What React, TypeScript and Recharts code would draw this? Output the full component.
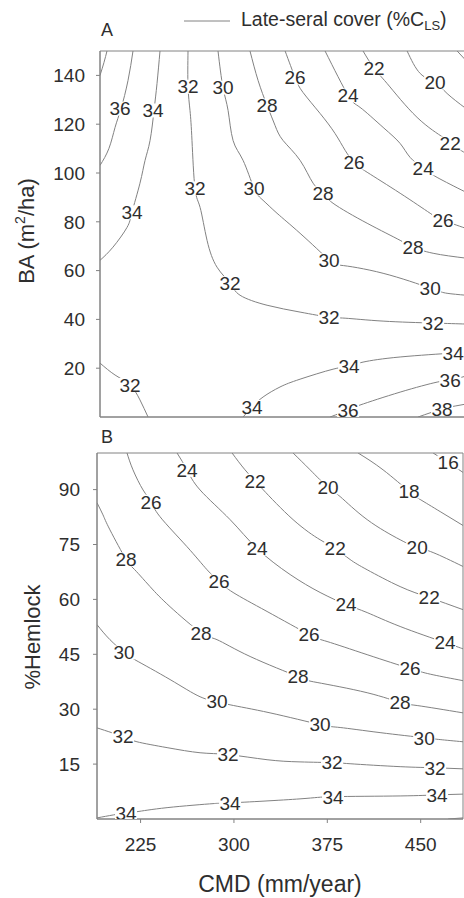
import React from 'react';
import { ComposedChart, Line, Scatter, XAxis, YAxis, ReferenceArea } from 'recharts';

type P = { x: number; y: number };
type L = { x: number; y: number; v: number };

const FONT = '"Liberation Sans", Arial, Helvetica, sans-serif';
const LINE = '#828282';
const TXT = '#2e2e2e';

// tick labels
const cmdTicks = [225, 300, 375, 450];
const baTicks = [20, 40, 60, 80, 100, 120, 140];
const hemTicks = [15, 30, 45, 60, 75, 90];

// ---------- Panel A: CMD vs BA ----------
const a38: P[] = [{ x: 190, y: 140 }, { x: 193.2, y: 145.3 }, { x: 195.6, y: 150 }];
const a36: P[] = [{ x: 190, y: 103.1 }, { x: 197.2, y: 110.1 }, { x: 202.1, y: 118.7 }, { x: 206.9, y: 126.4 }, { x: 212.5, y: 137.9 }, { x: 216.5, y: 150 }];
const a34: P[] = [{ x: 190, y: 64.2 }, { x: 200.4, y: 69.6 }, { x: 211.7, y: 77.7 }, { x: 215.7, y: 83.9 }, { x: 222.1, y: 95.8 }, { x: 226.2, y: 105.2 }, { x: 230.2, y: 113.3 }, { x: 233.4, y: 125.6 }, { x: 235.8, y: 136.7 }, { x: 238.2, y: 150 }];
const a32: P[] = [{ x: 260.7, y: 150 }, { x: 260.7, y: 135.4 }, { x: 262.3, y: 125.6 }, { x: 263.9, y: 113.3 }, { x: 266.3, y: 93.7 }, { x: 270.4, y: 85.9 }, { x: 276.0, y: 72.4 }, { x: 284.0, y: 61.4 }, { x: 294.5, y: 54.8 }, { x: 302.5, y: 49.9 }, { x: 324.2, y: 45.8 }, { x: 350.7, y: 43.0 }, { x: 374.0, y: 40.9 }, { x: 386.9, y: 40.5 }, { x: 417.4, y: 39.3 }, { x: 457.6, y: 38.5 }, { x: 484, y: 38.1 }];
const a30: P[] = [{ x: 284.8, y: 150 }, { x: 288.8, y: 135.0 }, { x: 292.9, y: 125.6 }, { x: 296.9, y: 113.3 }, { x: 304.9, y: 105.2 }, { x: 313.8, y: 93.7 }, { x: 321.0, y: 88.8 }, { x: 332.2, y: 83.5 }, { x: 350.7, y: 75.3 }, { x: 374.0, y: 64.2 }, { x: 382.9, y: 62.2 }, { x: 417.4, y: 58.9 }, { x: 455.2, y: 52.8 }, { x: 468.8, y: 50.7 }, { x: 484, y: 49.9 }];
const a28: P[] = [{ x: 310.5, y: 150 }, { x: 317.0, y: 137.9 }, { x: 324.2, y: 127.7 }, { x: 330.6, y: 119.5 }, { x: 337.1, y: 113.3 }, { x: 350.7, y: 105.2 }, { x: 361.2, y: 95.8 }, { x: 369.2, y: 91.7 }, { x: 377.2, y: 87.6 }, { x: 404.6, y: 79.4 }, { x: 431.1, y: 72.4 }, { x: 441.5, y: 69.6 }, { x: 457.6, y: 67.1 }, { x: 484, y: 65.1 }];
const a26: P[] = [{ x: 338.7, y: 150 }, { x: 346.7, y: 139.1 }, { x: 353.1, y: 133.0 }, { x: 366.8, y: 124.4 }, { x: 378.8, y: 116.2 }, { x: 386.9, y: 109.3 }, { x: 394.1, y: 104.3 }, { x: 404.6, y: 100.3 }, { x: 431.1, y: 91.7 }, { x: 455.2, y: 83.5 }, { x: 465.6, y: 80.6 }, { x: 484, y: 77.3 }];
const a24: P[] = [{ x: 370.8, y: 150 }, { x: 389.3, y: 131.8 }, { x: 398.9, y: 126.9 }, { x: 417.4, y: 118.7 }, { x: 431.1, y: 112.1 }, { x: 439.1, y: 106.4 }, { x: 449.6, y: 101.9 }, { x: 460.8, y: 98.2 }, { x: 484, y: 92.1 }];
const a22: P[] = [{ x: 401.3, y: 150 }, { x: 410.2, y: 142.8 }, { x: 420.6, y: 136.7 }, { x: 444.7, y: 122.8 }, { x: 465.6, y: 114.6 }, { x: 471.3, y: 112.1 }, { x: 484, y: 108.0 }];
const a20: P[] = [{ x: 436.7, y: 150 }, { x: 447.2, y: 140.8 }, { x: 459.2, y: 137.1 }, { x: 468.8, y: 132.6 }, { x: 484, y: 126.4 }];
const a18: P[] = [{ x: 476.9, y: 150 }, { x: 484, y: 146.1 }];
const a32low: P[] = [{ x: 190, y: 22.1 }, { x: 202.1, y: 17.2 }, { x: 214.1, y: 13.1 }, { x: 222.1, y: 7.0 }, { x: 228.6, y: 0 }];
const a34low: P[] = [{ x: 304.9, y: 0 }, { x: 312.1, y: 4.1 }, { x: 321.0, y: 8.2 }, { x: 334.6, y: 12.3 }, { x: 350.7, y: 15.5 }, { x: 377.2, y: 19.6 }, { x: 390.1, y: 20.9 }, { x: 401.3, y: 22.5 }, { x: 431.1, y: 24.6 }, { x: 473.7, y: 26.2 }, { x: 484, y: 26.6 }];
const a36low: P[] = [{ x: 374.8, y: 0 }, { x: 389.3, y: 2.9 }, { x: 398.9, y: 4.9 }, { x: 431.1, y: 10.2 }, { x: 460.8, y: 14.3 }, { x: 471.3, y: 15.1 }, { x: 484, y: 16.8 }];
const a38low: P[] = [{ x: 445.5, y: 0 }, { x: 464.8, y: 3.3 }, { x: 475.3, y: 4.5 }, { x: 484, y: 5.3 }];

const labelsA: L[] = [
  { x: 206.1, y: 126.4, v: 36 },
  { x: 232.6, y: 125.6, v: 34 }, { x: 215.7, y: 83.9, v: 34 },
  { x: 260.7, y: 135.4, v: 32 }, { x: 266.3, y: 93.7, v: 32 }, { x: 294.5, y: 54.8, v: 32 }, { x: 374.0, y: 40.9, v: 32 }, { x: 457.6, y: 38.5, v: 32 },
  { x: 288.8, y: 135.0, v: 30 }, { x: 313.8, y: 93.7, v: 30 }, { x: 374.0, y: 64.2, v: 30 }, { x: 455.2, y: 52.8, v: 30 },
  { x: 324.2, y: 127.7, v: 28 }, { x: 369.2, y: 91.7, v: 28 }, { x: 441.5, y: 69.6, v: 28 },
  { x: 346.7, y: 139.1, v: 26 }, { x: 394.1, y: 104.3, v: 26 }, { x: 465.6, y: 80.6, v: 26 },
  { x: 389.3, y: 131.8, v: 24 }, { x: 449.6, y: 101.9, v: 24 },
  { x: 410.2, y: 142.8, v: 22 }, { x: 471.3, y: 112.1, v: 22 },
  { x: 459.2, y: 137.1, v: 20 },
  { x: 214.1, y: 13.1, v: 32 },
  { x: 312.1, y: 4.1, v: 34 }, { x: 390.1, y: 20.9, v: 34 }, { x: 473.7, y: 26.2, v: 34 },
  { x: 389.3, y: 2.9, v: 36 }, { x: 471.3, y: 15.1, v: 36 },
  { x: 464.8, y: 3.3, v: 38 },
];

// ---------- Panel B: CMD vs %Hemlock ----------
const b16: P[] = [{ x: 460.0, y: 100 }, { x: 472.1, y: 97.4 }, { x: 484, y: 94.7 }];
const b18: P[] = [{ x: 399.7, y: 100 }, { x: 419.8, y: 95.4 }, { x: 440.7, y: 89.5 }, { x: 449.6, y: 87.3 }, { x: 465.6, y: 84.0 }, { x: 484, y: 80.2 }];
const b20: P[] = [{ x: 347.5, y: 100 }, { x: 361.2, y: 95.4 }, { x: 375.6, y: 90.6 }, { x: 385.3, y: 88.1 }, { x: 407.0, y: 81.8 }, { x: 433.5, y: 76.3 }, { x: 447.2, y: 74.2 }, { x: 460.0, y: 72.8 }, { x: 484, y: 69.0 }];
const b22: P[] = [{ x: 298.5, y: 100 }, { x: 308.9, y: 95.4 }, { x: 317.0, y: 92.4 }, { x: 323.4, y: 90.0 }, { x: 347.5, y: 81.8 }, { x: 369.2, y: 76.3 }, { x: 381.3, y: 73.9 }, { x: 393.3, y: 70.9 }, { x: 407.0, y: 68.1 }, { x: 433.5, y: 63.5 }, { x: 456.8, y: 60.5 }, { x: 484, y: 57.2 }];
const b24: P[] = [{ x: 254.3, y: 100 }, { x: 262.3, y: 95.4 }, { x: 272.8, y: 89.9 }, { x: 296.9, y: 81.8 }, { x: 318.6, y: 73.9 }, { x: 345.1, y: 66.8 }, { x: 369.2, y: 61.9 }, { x: 390.1, y: 58.6 }, { x: 407.0, y: 56.4 }, { x: 433.5, y: 52.6 }, { x: 469.6, y: 48.2 }, { x: 484, y: 46.5 }];
const b26: P[] = [{ x: 214.1, y: 100 }, { x: 218.9, y: 95.4 }, { x: 227.0, y: 89.9 }, { x: 233.4, y: 86.7 }, { x: 240.6, y: 82.6 }, { x: 262.3, y: 74.4 }, { x: 278.4, y: 68.1 }, { x: 288.0, y: 64.9 }, { x: 299.3, y: 61.9 }, { x: 326.6, y: 56.7 }, { x: 360.4, y: 50.4 }, { x: 374.8, y: 48.5 }, { x: 407.0, y: 44.9 }, { x: 441.5, y: 41.1 }, { x: 460.0, y: 39.4 }, { x: 484, y: 37.8 }];
const b28: P[] = [{ x: 190, y: 86.4 }, { x: 194.8, y: 83.1 }, { x: 200.4, y: 79.0 }, { x: 213.3, y: 70.9 }, { x: 218.9, y: 68.6 }, { x: 232.6, y: 63.5 }, { x: 248.7, y: 58.0 }, { x: 273.6, y: 50.9 }, { x: 286.4, y: 49.0 }, { x: 313.0, y: 44.4 }, { x: 351.5, y: 38.9 }, { x: 366.8, y: 37.3 }, { x: 407.0, y: 34.5 }, { x: 433.5, y: 31.8 }, { x: 447.2, y: 31.0 }, { x: 484, y: 29.0 }];
const b30: P[] = [{ x: 190, y: 53.1 }, { x: 200.4, y: 49.0 }, { x: 211.7, y: 45.5 }, { x: 220.5, y: 43.5 }, { x: 248.7, y: 38.1 }, { x: 272.8, y: 33.4 }, { x: 286.4, y: 32.1 }, { x: 296.9, y: 31.2 }, { x: 329.0, y: 29.0 }, { x: 369.2, y: 25.8 }, { x: 385.3, y: 25.0 }, { x: 417.4, y: 23.6 }, { x: 452.8, y: 22.2 }, { x: 465.6, y: 21.7 }, { x: 484, y: 21.1 }];
const b32: P[] = [{ x: 190, y: 24.9 }, { x: 210.9, y: 22.5 }, { x: 222.1, y: 21.1 }, { x: 246.3, y: 19.5 }, { x: 272.8, y: 18.1 }, { x: 295.3, y: 17.6 }, { x: 326.6, y: 16.2 }, { x: 353.1, y: 15.6 }, { x: 378.8, y: 15.4 }, { x: 393.3, y: 15.1 }, { x: 433.5, y: 14.3 }, { x: 461.6, y: 14.0 }, { x: 484, y: 13.7 }];
const b34: P[] = [{ x: 190, y: 0.3 }, { x: 213.3, y: 1.7 }, { x: 222.1, y: 2.0 }, { x: 246.3, y: 3.1 }, { x: 283.2, y: 4.2 }, { x: 296.9, y: 4.4 }, { x: 353.1, y: 5.5 }, { x: 379.6, y: 6.1 }, { x: 433.5, y: 6.3 }, { x: 463.2, y: 6.6 }, { x: 484, y: 6.8 }];
const b36: P[] = [{ x: 472.1, y: 0 }, { x: 484, y: 0.3 }];

const labelsB: L[] = [
  { x: 472.1, y: 97.4, v: 16 },
  { x: 440.7, y: 89.5, v: 18 },
  { x: 375.6, y: 90.6, v: 20 }, { x: 447.2, y: 74.2, v: 20 },
  { x: 317.0, y: 92.4, v: 22 }, { x: 381.3, y: 73.9, v: 22 }, { x: 456.8, y: 60.5, v: 22 },
  { x: 262.3, y: 95.4, v: 24 }, { x: 318.6, y: 73.9, v: 24 }, { x: 390.1, y: 58.6, v: 24 }, { x: 469.6, y: 48.2, v: 24 },
  { x: 233.4, y: 86.7, v: 26 }, { x: 288.0, y: 64.9, v: 26 }, { x: 360.4, y: 50.4, v: 26 }, { x: 441.5, y: 41.1, v: 26 },
  { x: 213.3, y: 70.9, v: 28 }, { x: 273.6, y: 50.9, v: 28 }, { x: 351.5, y: 38.9, v: 28 }, { x: 433.5, y: 31.8, v: 28 },
  { x: 211.7, y: 45.5, v: 30 }, { x: 286.4, y: 32.1, v: 30 }, { x: 369.2, y: 25.8, v: 30 }, { x: 452.8, y: 22.2, v: 30 },
  { x: 210.9, y: 22.5, v: 32 }, { x: 295.3, y: 17.6, v: 32 }, { x: 378.8, y: 15.4, v: 32 }, { x: 461.6, y: 14.0, v: 32 },
  { x: 213.3, y: 1.7, v: 34 }, { x: 296.9, y: 4.4, v: 34 }, { x: 379.6, y: 6.1, v: 34 }, { x: 463.2, y: 6.6, v: 34 },
];

const contoursA = [a38, a36, a34, a32, a30, a28, a26, a24, a22, a20, a18, a32low, a34low, a36low, a38low];
const contoursB = [b16, b18, b20, b22, b24, b26, b28, b30, b32, b34, b36];

const renderLabel = (props: any) => {
  const { cx, cy, payload } = props;
  if (cx == null || cy == null) return <g />;
  return (
    <g>
      <rect x={cx - 11} y={cy - 7} width={22} height={14} fill="#fff" />
      <text x={cx} y={cy} dy="0.36em" textAnchor="middle" fontSize={19} fontFamily={FONT} fill={TXT}>
        {payload.v}
      </text>
    </g>
  );
};

const tickStyle = { fill: TXT, fontSize: 19, fontFamily: FONT };

export default function App() {
  return (
    <div style={{ position: 'absolute', left: 0, top: 0, width: 464, height: 898, overflow: 'hidden', background: '#fff' }}>
      <div style={{ position: 'absolute', left: 0, top: 0 }}>
        <ComposedChart width={480} height={440} margin={{ top: 51, right: 14, bottom: 3, left: 0 }}>
          <XAxis dataKey="x" type="number" domain={[190, 484]} ticks={cmdTicks} tick={false} tickSize={4} height={20}
            axisLine={{ stroke: LINE }} tickLine={{ stroke: LINE }} allowDataOverflow />
          <YAxis dataKey="y" type="number" domain={[0, 150]} ticks={baTicks} width={100} tickSize={4} tickMargin={11}
            tick={tickStyle} axisLine={{ stroke: LINE }} tickLine={{ stroke: LINE }} allowDataOverflow />
          <ReferenceArea x1={190} x2={484} y1={0} y2={150} fill="none" fillOpacity={0} stroke={LINE} strokeWidth={1} />
          {contoursA.map((d, i) => (
            <Line key={'a' + i} data={d} dataKey="y" type="natural" stroke={LINE} strokeWidth={1} dot={false} activeDot={false} isAnimationActive={false} />
          ))}
          <Scatter data={labelsA} dataKey="y" shape={renderLabel} isAnimationActive={false} />
        </ComposedChart>
      </div>
      <div style={{ position: 'absolute', left: 0, top: 440 }}>
        <ComposedChart width={464} height={458} margin={{ top: 13, right: 1, bottom: 39, left: 0 }}>
          <XAxis dataKey="x" type="number" domain={[190, 484]} ticks={cmdTicks} tick={tickStyle} tickSize={4} tickMargin={15} height={40}
            axisLine={{ stroke: LINE }} tickLine={{ stroke: LINE }} allowDataOverflow />
          <YAxis dataKey="y" type="number" domain={[0, 100]} ticks={hemTicks} width={97} tickSize={4} tickMargin={13}
            tick={tickStyle} axisLine={{ stroke: LINE }} tickLine={{ stroke: LINE }} allowDataOverflow />
          <ReferenceArea x1={190} x2={484} y1={0} y2={100} fill="none" fillOpacity={0} stroke={LINE} strokeWidth={1} />
          {contoursB.map((d, i) => (
            <Line key={'b' + i} data={d} dataKey="y" type="natural" stroke={LINE} strokeWidth={1} dot={false} activeDot={false} isAnimationActive={false} />
          ))}
          <Scatter data={labelsB} dataKey="y" shape={renderLabel} isAnimationActive={false} />
        </ComposedChart>
      </div>
      <svg width={464} height={898} style={{ position: 'absolute', left: 0, top: 0, pointerEvents: 'none' }} fontFamily={FONT}>
        <line x1={184} y1={21} x2={230} y2={21} stroke={LINE} strokeWidth={1} />
        <text x={241} y={26} fontSize={19.5} fill={TXT}>
          Late-seral cover (%C<tspan fontSize={13} dy={4}>LS</tspan><tspan dy={-4}>)</tspan>
        </text>
        <text x={101} y={36} fontSize={18} fill={TXT}>A</text>
        <text x={101} y={443} fontSize={18} fill={TXT}>B</text>
        <text transform="translate(34,231) rotate(-90)" textAnchor="middle" fontSize={22} fill={TXT}>
          BA (m<tspan fontSize={14} dy={-9}>2</tspan><tspan dy={9}>/ha)</tspan>
        </text>
        <text transform="translate(40,637) rotate(-90)" textAnchor="middle" fontSize={22} fill={TXT}>%Hemlock</text>
        <text x={280} y={892} textAnchor="middle" fontSize={23} fill={TXT}>CMD (mm/year)</text>
      </svg>
    </div>
  );
}
